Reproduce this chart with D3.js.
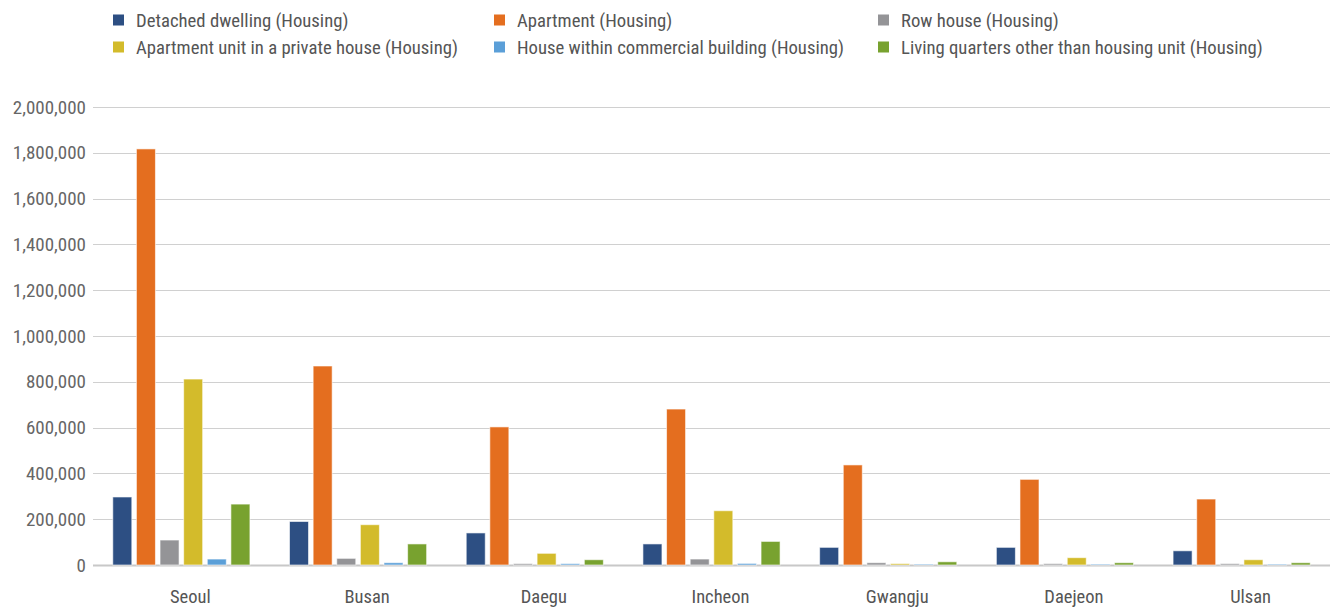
<!DOCTYPE html>
<html>
<head>
<meta charset="utf-8">
<script src="https://cdn.jsdelivr.net/npm/d3@7"></script>
<style>
  html, body { margin: 0; padding: 0; background: #fff; }
  svg text { font-family: "Roboto Condensed", "Liberation Sans Narrow", "DejaVu Sans Condensed", "Arial Narrow", sans-serif; }
</style>
</head>
<body>
<svg id="chart" width="1331" height="609"></svg>
<script>
const categories = ["Seoul", "Busan", "Daegu", "Incheon", "Gwangju", "Daejeon", "Ulsan"];
const seriesNames = [
  "Detached dwelling (Housing)",
  "Apartment (Housing)",
  "Row house (Housing)",
  "Apartment unit in a private house (Housing)",
  "House within commercial building (Housing)",
  "Living quarters other than housing unit (Housing)"
];
const detached   = [297000, 190000, 140000,  92000,  77000,  77000,  62000];
const apartment  = [1817000, 869000, 603000, 681000, 437000, 374000, 288000];
const rowHouse   = [109000,  29000,   6000,  26000,  10000,   6000,   6000];
const aptUnit    = [812000, 176000,  51000, 237000,   6000,  32000,  23000];
const commercial = [ 26000,  10000,   6000,   7000,   4000,   4000,   4000];
const living     = [266000,  92000,  23000, 103000,  14000,  10000,  10000];
const yTicks = [0, 200000, 400000, 600000, 800000, 1000000, 1200000, 1400000, 1600000, 1800000, 2000000];
const colors = ["#2d4f83", "#e46e1f", "#949497", "#d3bb2b", "#5b9fd8", "#78a22f"];

const seriesValues = [detached, apartment, rowHouse, aptUnit, commercial, living];

const svg = d3.select("#chart");
const margin = { left: 93, right: 1, top: 107, bottom: 44 };
const W = 1331, H = 609;

const x0 = d3.scaleBand().domain(categories).range([margin.left, W - margin.right]).padding(0);
const x1 = d3.scaleBand().domain(d3.range(seriesNames.length))
  .range([x0.bandwidth() * 0.112, x0.bandwidth() * 0.888]).paddingInner(0.195).paddingOuter(0);
const y = d3.scaleLinear().domain([0, 2000000]).range([H - margin.bottom, margin.top]);

// gridlines
const grid = svg.append("g");
grid.selectAll("line").data(yTicks).join("line")
  .attr("x1", margin.left).attr("x2", W - margin.right)
  .attr("y1", d => Math.round(y(d)) + 0.5).attr("y2", d => Math.round(y(d)) + 0.5)
  .attr("stroke", d => d === 0 ? "#c8c8c8" : "#d0d0d0")
  .attr("stroke-width", d => d === 0 ? 2 : 1);

// y axis labels
const yAxis = d3.axisLeft(y).tickValues(yTicks).tickFormat(d3.format(",")).tickSize(0).tickPadding(7);
const yg = svg.append("g").attr("transform", `translate(${margin.left},0)`).call(yAxis);
yg.select(".domain").remove();
yg.selectAll("text").attr("fill", "#666").style("font-size", "19px");

// bars
const groups = svg.append("g").selectAll("g").data(categories).join("g")
  .attr("transform", d => `translate(${x0(d)},0)`);
groups.selectAll("rect").data((c, ci) => seriesValues.map((vals, si) => ({ si, v: vals[ci] })))
  .join("rect")
  .attr("x", d => x1(d.si))
  .attr("width", x1.bandwidth())
  .attr("y", d => y(d.v))
  .attr("height", d => y(0) - y(d.v))
  .attr("fill", d => colors[d.si])
  .attr("stroke", "rgba(255,255,255,0.6)")
  .attr("stroke-width", 1);

// x axis labels
const xAxis = d3.axisBottom(x0).tickSize(0).tickPadding(25);
const xg = svg.append("g").attr("transform", `translate(9,${y(0)})`).call(xAxis);
xg.select(".domain").remove();
xg.selectAll("text").attr("fill", "#555").style("font-size", "18.5px");

// legend
const legend = svg.append("g");
const colX = [113, 494, 878];
const rowY = [20, 47];
const items = legend.selectAll("g").data(seriesNames).join("g")
  .attr("transform", (d, i) => `translate(${colX[i % 3]},${rowY[Math.floor(i / 3)]})`);
items.append("rect").attr("x", 0).attr("y", -5.5).attr("width", 11).attr("height", 11)
  .attr("fill", (d, i) => colors[i]);
items.append("text").attr("x", 23).attr("y", 0).attr("dy", "0.35em")
  .attr("fill", "#555").style("font-size", "18.7px").text(d => d);
</script>
</body>
</html>
